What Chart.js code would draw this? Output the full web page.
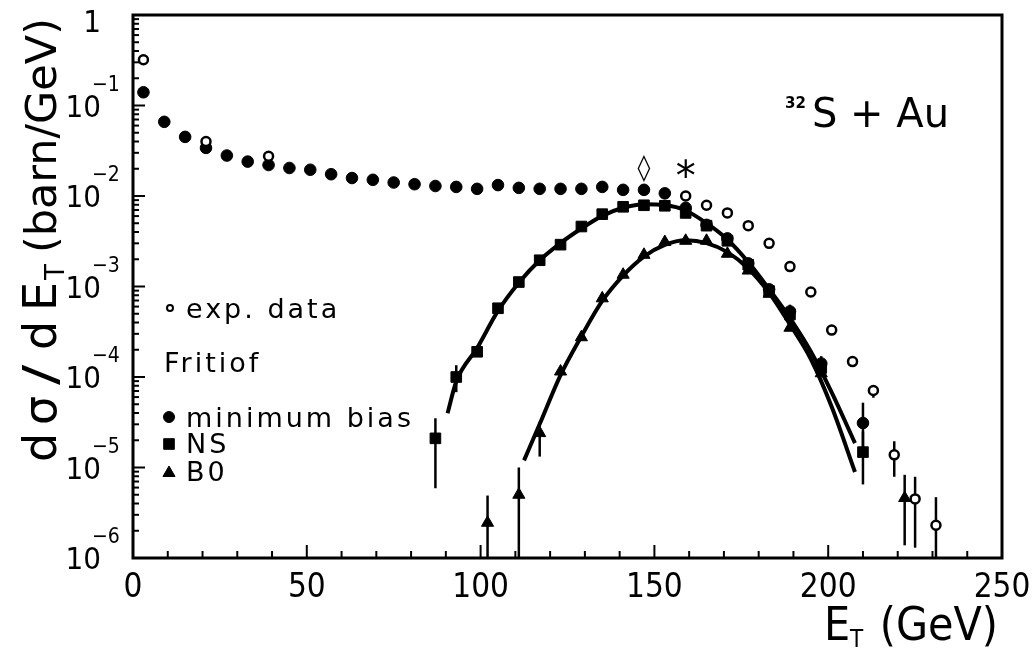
<!DOCTYPE html>
<html lang="en">
<head>
<meta charset="UTF-8">
<title>dσ/dE_T — 32S + Au</title>
<script src="https://cdn.jsdelivr.net/npm/chart.js"></script>
<style>
  body { margin: 0; background: #fff; }
  #wrap { width: 1036px; height: 657px; }
</style>
</head>
<body>
<div id="wrap"><canvas id="etChart" width="1036" height="657"></canvas></div>
<script>
// E_T bins (GeV) and dσ/dE_T (barn/GeV)
const minBiasE   = [3, 9, 15, 21, 27, 33, 39, 45, 51, 57, 63, 69, 75, 81, 87, 93, 99, 105, 111, 117,
                    123, 129, 135, 141, 147, 153, 159, 165, 171, 177, 183, 189, 198, 210];
const minBiasVal = [0.14, 0.066, 0.045, 0.034, 0.028, 0.024, 0.022, 0.0204, 0.0195, 0.0174, 0.0158,
                    0.0151, 0.0141, 0.0135, 0.0129, 0.0126, 0.0120, 0.0132, 0.0123, 0.0120, 0.0120,
                    0.0120, 0.0126, 0.0117, 0.0117, 0.0107, 0.0074, 0.0048, 0.0034, 0.0018, 0.00093,
                    0.00053, 0.000141, 0.000031];

const nsE   = [87, 93, 99, 105, 111, 117, 123, 129, 135, 141, 147, 153, 159, 165, 171, 177, 183, 189, 198, 210];
const nsVal = [2.1e-5, 1.0e-4, 1.9e-4, 5.75e-4, 1.12e-3, 1.95e-3, 2.9e-3, 4.6e-3, 6.3e-3, 7.6e-3,
               7.9e-3, 7.8e-3, 6.5e-3, 4.7e-3, 3.2e-3, 1.74e-3, 8.9e-4, 4.9e-4, 1.26e-4, 1.48e-5];

const b0E   = [102, 111, 117, 123, 129, 135, 141, 147, 153, 159, 165, 171, 177, 183, 189, 198, 222];
const b0Val = [2.45e-6, 5.0e-6, 2.4e-5, 1.15e-4, 2.75e-4, 7.4e-4, 1.35e-3, 2.24e-3, 3.1e-3, 3.2e-3,
               3.2e-3, 2.3e-3, 1.5e-3, 8.3e-4, 3.5e-4, 1.1e-4, 4.6e-6];

const expE   = [3, 21, 39, 159, 165, 171, 177, 183, 189, 195, 201, 207, 213, 219, 225, 231];
const expVal = [0.32, 0.040, 0.0275, 0.0100, 0.0079, 0.0065, 0.0047, 0.0030, 0.00166, 8.7e-4,
                3.3e-4, 1.48e-4, 7.1e-5, 1.38e-5, 4.5e-6, 2.3e-6];

// Fritiof curves, sampled along the drawn lines
const nsCurveE   = [90.5, 93, 99, 105, 111, 117, 123, 129, 135, 141, 147, 153, 159, 165, 171, 177,
                    183, 189, 195, 201, 207.7];
const nsCurveVal = [3.98e-5, 8.9e-5, 2.09e-4, 5.37e-4, 1.10e-3, 1.95e-3, 3.02e-3, 4.37e-3, 6.03e-3,
                    7.41e-3, 8.13e-3, 7.94e-3, 6.92e-3, 5.01e-3, 3.31e-3, 1.86e-3, 9.33e-4, 4.47e-4,
                    1.91e-4, 6.76e-5, 1.86e-5];
const b0CurveE   = [112.5, 117, 123, 129, 135, 141, 147, 153, 159, 165, 171, 177, 183, 189, 195, 201, 207.7];
const b0CurveVal = [1.20e-5, 3.02e-5, 1.05e-4, 2.82e-4, 6.92e-4, 1.32e-3, 2.14e-3, 2.88e-3, 3.24e-3,
                    3.02e-3, 2.40e-3, 1.58e-3, 8.51e-4, 3.80e-4, 1.58e-4, 4.68e-5, 8.91e-6];

// error bars: [E, low, high]
const expErr     = [[213, 5.9e-5, 8.1e-5], [219, 7.9e-6, 1.95e-5], [225, 1.3e-6, 7.9e-6], [231, 1e-6, 4.7e-6]];
const nsErr      = [[87, 5.9e-6, 3.5e-5], [93, 6.8e-5, 1.35e-4], [189, 4.0e-4, 6.3e-4], [210, 6.5e-6, 2.5e-5]];
const minBiasErr = [[198, 1.1e-4, 1.7e-4], [210, 1.7e-5, 5.2e-5]];
const b0Err      = [[102, 1e-6, 4.9e-6], [111, 1e-6, 1.0e-5], [117, 1.32e-5, 3.2e-5], [222, 1.38e-6, 8.3e-6]];

const xTicks     = [0, 50, 100, 150, 200, 250];
const yTickExps  = [0, -1, -2, -3, -4, -5, -6];

const pts = (xs, ys) => xs.map((x, i) => ({ x: x, y: ys[i] }));

const NUM_FONT = '"Liberation Sans Narrow", "DejaVu Sans Condensed", sans-serif';
const TXT_FONT = '"DejaVu Sans", sans-serif';

// frame, ticks, labels, legend and error bars, all placed through the chart scales
const paperPlugin = {
  id: 'paper',
  beforeDatasetsDraw(chart) {
    const { ctx, chartArea: a, scales: { x, y } } = chart;
    ctx.save();
    ctx.beginPath();
    ctx.rect(a.left, a.top, a.right - a.left, a.bottom - a.top);
    ctx.clip();
    ctx.strokeStyle = '#000';
    ctx.lineWidth = 2.5;
    [expErr, nsErr, minBiasErr, b0Err].forEach(list => list.forEach(([e, lo, hi]) => {
      const px = x.getPixelForValue(e);
      ctx.beginPath();
      ctx.moveTo(px, y.getPixelForValue(lo));
      ctx.lineTo(px, y.getPixelForValue(hi));
      ctx.stroke();
    }));
    ctx.restore();
  },
  afterDraw(chart) {
    const { ctx, chartArea: a, scales: { x, y } } = chart;
    ctx.save();
    ctx.strokeStyle = '#000';
    ctx.fillStyle = '#000';

    // frame
    ctx.lineWidth = 3;
    ctx.strokeRect(a.left, a.top, a.right - a.left, a.bottom - a.top);

    // x ticks, pointing inward
    ctx.lineWidth = 2;
    for (let v = 0; v <= 250; v += 10) {
      const px = x.getPixelForValue(v);
      const len = v % 50 === 0 ? 13 : 7;
      ctx.beginPath();
      ctx.moveTo(px, a.bottom);
      ctx.lineTo(px, a.bottom - len);
      ctx.stroke();
    }
    // y ticks (log decades + minor)
    for (let e = -6; e <= 0; e++) {
      for (let m = 1; m <= 9; m++) {
        if (e === 0 && m > 1) break;
        const py = y.getPixelForValue(m * Math.pow(10, e));
        ctx.beginPath();
        ctx.moveTo(a.left, py);
        ctx.lineTo(a.left + (m === 1 ? 12 : 6), py);
        ctx.stroke();
      }
    }

    // x tick labels
    ctx.font = '33px ' + NUM_FONT;
    ctx.textAlign = 'center';
    ctx.textBaseline = 'alphabetic';
    xTicks.forEach(v => ctx.fillText(String(v), x.getPixelForValue(v), 597));

    // y tick labels: 10 with exponent
    yTickExps.forEach(e => {
      const py = y.getPixelForValue(Math.pow(10, e));
      ctx.font = '31px ' + NUM_FONT;
      ctx.textAlign = 'right';
      if (e === 0) {
        ctx.fillText('1', 101, py + 17);
        return;
      }
      ctx.fillText('10', 101, py + 11);
      ctx.font = '21px ' + NUM_FONT;
      ctx.textAlign = 'left';
      ctx.fillText('\u2212' + String(-e), 92, py - 15);
    });

    // y axis title, laid out piece by piece along the rotated baseline
    ctx.save();
    ctx.translate(56, 464);
    ctx.rotate(-Math.PI / 2);
    ctx.textAlign = 'left';
    ctx.font = '46px ' + TXT_FONT;
    ctx.fillText('d', 2, 0);
    ctx.fillText('\u03c3', 39, 0);
    ctx.save();
    ctx.translate(79, 0);
    ctx.scale(1.3, 1);
    ctx.fillText('/', 0, 0);
    ctx.restore();
    ctx.fillText('d', 114, 0);
    ctx.fillText('E', 153, 0);
    ctx.font = '26px ' + TXT_FONT;
    ctx.fillText('T', 184, 8);
    ctx.font = '43px ' + TXT_FONT;
    ctx.textAlign = 'right';
    ctx.fillText('(barn/GeV)', 446, 0);
    ctx.restore();

    // x axis title
    ctx.textAlign = 'left';
    ctx.font = '46px ' + NUM_FONT;
    ctx.fillText('E', 824, 640);
    ctx.font = '24px ' + NUM_FONT;
    ctx.fillText('T', 850, 647);
    ctx.font = '46px ' + NUM_FONT;
    ctx.textAlign = 'right';
    ctx.fillText('(GeV)', 998, 640);

    // reaction label
    ctx.textAlign = 'left';
    ctx.font = 'bold 15px ' + TXT_FONT;
    ctx.fillText('32', 785, 108);
    ctx.font = '40px ' + TXT_FONT;
    ctx.fillText('S + Au', 812, 127);

    // markers above the peak
    ctx.textAlign = 'center';
    ctx.font = '26px ' + TXT_FONT;
    ctx.fillText('\u25ca', x.getPixelForValue(147), y.getPixelForValue(0.03) + 23);
    ctx.font = '40px ' + TXT_FONT;
    ctx.fillText('*', x.getPixelForValue(159), y.getPixelForValue(0.03) + 37);

    // legend
    ctx.textAlign = 'left';
    ctx.font = '500 27px ' + TXT_FONT;
    ctx.letterSpacing = '3px';
    ctx.fillText('exp. data', 186, 318);
    ctx.fillText('Fritiof', 164, 372);
    ctx.fillText('minimum bias', 186, 427);
    ctx.fillText('NS', 186, 453);
    ctx.fillText('B0', 186, 481);
    ctx.letterSpacing = '0px';

    ctx.fillStyle = '#fff';
    ctx.lineWidth = 2;
    Chart.helpers.drawPoint(ctx, { pointStyle: 'circle', radius: 3, borderWidth: 2, rotation: 0 }, 170, 308);
    ctx.fillStyle = '#000';
    ctx.lineWidth = 1;
    Chart.helpers.drawPoint(ctx, { pointStyle: 'circle', radius: 5.5, borderWidth: 1, rotation: 0 }, 169, 417);
    Chart.helpers.drawPoint(ctx, { pointStyle: 'rect', radius: 7.5, borderWidth: 1, rotation: 0 }, 169, 444);
    Chart.helpers.drawPoint(ctx, { pointStyle: 'triangle', radius: 7, borderWidth: 1, rotation: 0 }, 169, 473);
    ctx.restore();
  }
};

const chart = new Chart(document.getElementById('etChart'), {
  type: 'scatter',
  data: {
    datasets: [
      {
        label: 'exp. data', data: pts(expE, expVal), order: 0,
        pointStyle: 'circle', pointRadius: 4.5, borderWidth: 2.5,
        backgroundColor: '#fff', borderColor: '#000'
      },
      {
        label: 'minimum bias', data: pts(minBiasE, minBiasVal), order: 1,
        pointStyle: 'circle', pointRadius: 5.8, borderWidth: 1,
        backgroundColor: '#000', borderColor: '#000'
      },
      {
        label: 'NS', data: pts(nsE, nsVal), order: 2,
        pointStyle: 'rect', pointRadius: 7.5, borderWidth: 1,
        backgroundColor: '#000', borderColor: '#000'
      },
      {
        label: 'B0', data: pts(b0E, b0Val), order: 3,
        pointStyle: 'triangle', pointRadius: 7, borderWidth: 1,
        backgroundColor: '#000', borderColor: '#000'
      },
      {
        label: 'Fritiof NS', data: pts(nsCurveE, nsCurveVal), order: 4,
        showLine: true, pointRadius: 0, borderWidth: 4, borderColor: '#000',
        cubicInterpolationMode: 'monotone'
      },
      {
        label: 'Fritiof B0', data: pts(b0CurveE, b0CurveVal), order: 5,
        showLine: true, pointRadius: 0, borderWidth: 4, borderColor: '#000',
        cubicInterpolationMode: 'monotone'
      }
    ]
  },
  options: {
    responsive: false,
    animation: false,
    events: [],
    layout: { padding: { left: 133, right: 34, top: 15, bottom: 99 } },
    scales: {
      x: { type: 'linear', min: 0, max: 250, display: false },
      y: { type: 'logarithmic', min: 1e-6, max: 1, display: false }
    },
    plugins: {
      legend: { display: false },
      tooltip: { enabled: false }
    }
  },
  plugins: [paperPlugin]
});
</script>
</body>
</html>
